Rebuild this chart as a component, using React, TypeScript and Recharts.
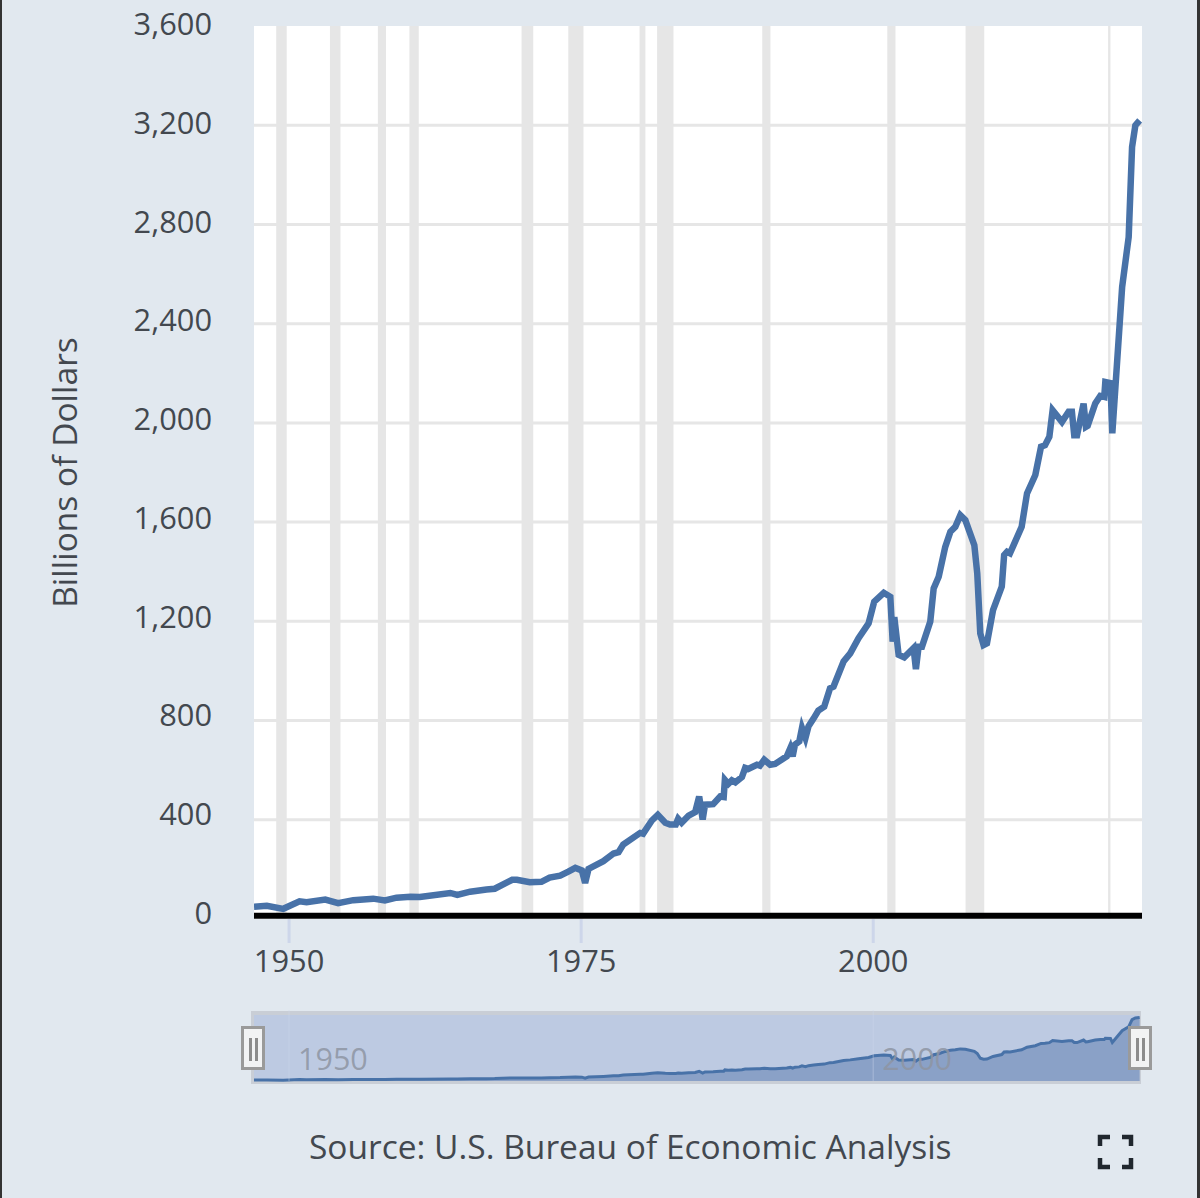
import React from "react";
import {
  ComposedChart,
  AreaChart,
  Area,
  Line,
  XAxis,
  YAxis,
  CartesianGrid,
  ReferenceArea,
  ReferenceLine,
} from "recharts";

const years = [
  1947.0, 1948.1, 1949.5, 1950.9, 1951.5, 1953.1, 1954.2, 1955.5, 1957.2, 1958.2, 1959.2, 1960.4, 1961.2,
  1963.8, 1964.4, 1965.5, 1966.9, 1967.6, 1969.1, 1969.5, 1970.6, 1971.6, 1972.3, 1973.2, 1973.9, 1974.5,
  1975.06, 1975.34, 1975.63, 1976.9, 1977.77, 1978.2, 1978.6, 1980.05, 1980.3, 1981.05, 1981.56, 1982.2,
  1982.6, 1983.1, 1983.3, 1983.6, 1984.2, 1984.76, 1985.1, 1985.4, 1985.6, 1986.3, 1986.9, 1987.2, 1987.3,
  1987.6, 1987.9, 1988.2, 1988.76, 1989.04, 1989.3, 1990.04, 1990.3, 1990.67, 1991.18, 1991.6, 1992.6,
  1992.9, 1993.1, 1993.3, 1993.67, 1993.9, 1994.2, 1994.46, 1994.9, 1995.3, 1995.8, 1996.3, 1996.6, 1997.46,
  1998.03, 1998.74, 1999.6, 2000.08, 2000.9, 2001.46, 2001.66, 2001.8, 2002.17, 2002.65, 2003.45, 2003.65,
  2003.88, 2004.17, 2004.88, 2005.17, 2005.6, 2006.16, 2006.6, 2007.02, 2007.45, 2007.88, 2008.65, 2008.9,
  2009.16, 2009.44, 2009.73, 2010.25, 2011.0, 2011.2, 2011.45, 2011.7, 2012.7, 2013.16, 2013.87, 2014.36,
  2014.7, 2015.07, 2015.35, 2016.15, 2016.72, 2017.0, 2017.2, 2017.44, 2018.0, 2018.2, 2018.35, 2019.0,
  2019.43, 2019.77, 2019.86, 2020.3, 2020.46, 2021.3, 2021.86, 2022.15, 2022.43, 2022.8,
];

const profits = [
  49, 53, 41, 71, 68, 78, 64, 76, 82, 75, 86, 90, 89,
  105, 97, 110, 119, 122, 158, 158, 148, 150, 167, 175, 191, 206,
  196, 145, 202, 233, 264, 269, 300, 347, 344, 397, 420, 388,
  381, 381, 404, 388, 417, 431, 494, 401, 461, 463, 494, 492, 561,
  545, 559, 551, 572, 609, 605, 622, 618, 642, 622, 625, 656,
  689, 656, 703, 716, 770, 730, 777, 809, 840, 856, 930, 937, 1038,
  1071, 1132, 1192, 1279, 1315, 1299, 1118, 1217, 1065, 1055, 1092, 1007,
  1098, 1098, 1199, 1333, 1380, 1500, 1561, 1581, 1628, 1608, 1507, 1393,
  1151, 1104, 1111, 1245, 1340, 1467, 1480, 1474, 1581, 1716, 1790, 1904,
  1910, 1944, 2051, 2004, 2045, 2045, 1950, 1950, 2078, 1984, 1988, 2078,
  2109, 2105, 2165, 2160, 1958, 2548, 2749, 3112, 3199, 3219,
];

const recessionStart = [1948.9, 1953.5, 1957.6, 1960.3, 1969.9, 1973.9, 1980.0, 1981.5, 1990.5, 2001.2, 2007.9, 2020.1];
const recessionEnd = [1949.8, 1954.4, 1958.3, 1961.1, 1970.9, 1975.2, 1980.5, 1982.9, 1991.2, 2001.9, 2009.5, 2020.3];

const yTicks = [0, 400, 800, 1200, 1600, 2000, 2400, 2800, 3200, 3600];
const gridValues = [400, 800, 1200, 1600, 2000, 2400, 2800, 3200];
const xTicks = [1950, 1975, 2000];
const navTicks = [1950, 2000];

const data = years.map((year, i) => ({ year, value: profits[i] }));

const BG = "#e1e8ef";
const FONT = "'Open Sans', sans-serif";
const TEXT = "#43484f";
const LINE = "#4872a8";

const NavLabel = (props: any) => {
  const { viewBox, value } = props;
  return (
    <text x={viewBox.x + 9} y={70} fontFamily={FONT} fontSize={30.5} fill="#8e95a3" fillOpacity={0.85} textAnchor="start">
      {value}
    </text>
  );
};

const YTick = (props: any) => {
  const { x, y, payload } = props;
  const shift = -6 + (4 * payload.value) / 3600;
  return (
    <text x={x} y={y + shift} dy={11} fontFamily={FONT} fontSize={30.8} fill={TEXT} textAnchor="end">
      {payload.value.toLocaleString("en-US")}
    </text>
  );
};

const Handle = ({ left }: { left: number }) => (
  <div
    style={{
      position: "absolute",
      left,
      top: 1026,
      width: 24,
      height: 44,
      boxSizing: "border-box",
      background: "#f2f3f4",
      border: "3px solid #9a9a9a",
    }}
  >
    <div style={{ position: "absolute", left: 5, top: 9, width: 3, height: 23, background: "#8c8c8c" }} />
    <div style={{ position: "absolute", left: 11, top: 9, width: 3, height: 23, background: "#8c8c8c" }} />
  </div>
);

export default function App() {
  return (
    <div style={{ position: "absolute", left: 0, top: 0, width: 1200, height: 1198, background: BG, overflow: "hidden", fontFamily: FONT }}>
      <div style={{ position: "absolute", left: 0, top: 0, width: 2, height: 1198, background: "#333" }} />
      <div style={{ position: "absolute", left: 1197, top: 0, width: 3, height: 1198, background: "#333" }} />

      <div style={{ position: "absolute", left: 0, top: 0 }}>
        <ComposedChart width={1200} height={1000} data={data} margin={{ top: 26, right: 58, bottom: 0, left: 0 }}>
          <CartesianGrid fill="#ffffff" stroke="#e6e6e6" strokeWidth={3} vertical={false} horizontalValues={gridValues} />
          <XAxis
            dataKey="year"
            type="number"
            domain={[1947, 2023]}
            ticks={xTicks}
            axisLine={false}
            tickLine={{ stroke: "#cdd6ea", strokeWidth: 3 }}
            tickSize={24}
            tickMargin={7}
            height={81}
            allowDataOverflow
            tick={{ fontFamily: FONT, fontSize: 30.8, fill: TEXT }}
          />
          <YAxis
            type="number"
            domain={[0, 3600]}
            ticks={yTicks}
            width={254}
            axisLine={false}
            tickLine={false}
            tickMargin={42}
            tickSize={0}
            interval={0}
            tick={<YTick />}
            label={{
              value: "Billions of Dollars",
              angle: -90,
              position: "insideLeft",
              offset: 65,
              style: { fontFamily: FONT, fontSize: 33.5, fill: TEXT, textAnchor: "middle" },
            }}
          />
          {recessionStart.map((start, i) => (
            <ReferenceArea key={start} x1={start} x2={recessionEnd[i]} fill="#e6e6e6" fillOpacity={1} stroke="none" />
          ))}
          <ReferenceLine y={13} stroke="#000000" strokeWidth={6} />
          <Line
            dataKey="value"
            type="linear"
            stroke={LINE}
            strokeWidth={6.5}
            dot={false}
            activeDot={false}
            isAnimationActive={false}
            strokeLinejoin="miter"
          />
        </ComposedChart>
      </div>

      <div style={{ position: "absolute", left: 251, top: 1011, width: 890, height: 73, background: "#c9ced6" }} />
      <div style={{ position: "absolute", left: 254, top: 1015, width: 885, height: 65, background: "#bdcae2" }} />

      <div style={{ position: "absolute", left: 0, top: 1000 }}>
        <AreaChart width={1200} height={90} data={data} margin={{ top: 10, right: 58, bottom: 9, left: 254 }}>
          <XAxis dataKey="year" type="number" domain={[1947, 2023]} hide />
          <YAxis type="number" domain={[0, 3600]} hide />
          <Area
            dataKey="value"
            type="linear"
            stroke={LINE}
            strokeWidth={3}
            fill="#8aa1c7"
            fillOpacity={1}
            dot={false}
            activeDot={false}
            isAnimationActive={false}
          />
          {navTicks.map((t) => (
            <ReferenceLine
              key={t}
              x={t}
              stroke="#cdd6ea"
              strokeOpacity={0.3}
              strokeWidth={1.5}
              label={<NavLabel value={t} />}
            />
          ))}
        </AreaChart>
      </div>

      <Handle left={241} />
      <Handle left={1128} />

      <div
        style={{
          position: "absolute",
          left: 309,
          top: 1124,
          fontSize: 33.5,
          lineHeight: "44px",
          color: TEXT,
          whiteSpace: "nowrap",
        }}
      >
        Source: U.S. Bureau of Economic Analysis
      </div>

      <svg style={{ position: "absolute", left: 1097, top: 1133 }} width={38} height={38}>
        <g fill="none" stroke="#20272e" strokeWidth={4.5}>
          <path d="M3 13 V4 H13" />
          <path d="M25 4 H34 V13" />
          <path d="M3 25 V34 H13" />
          <path d="M25 34 H34 V25" />
        </g>
      </svg>
    </div>
  );
}
